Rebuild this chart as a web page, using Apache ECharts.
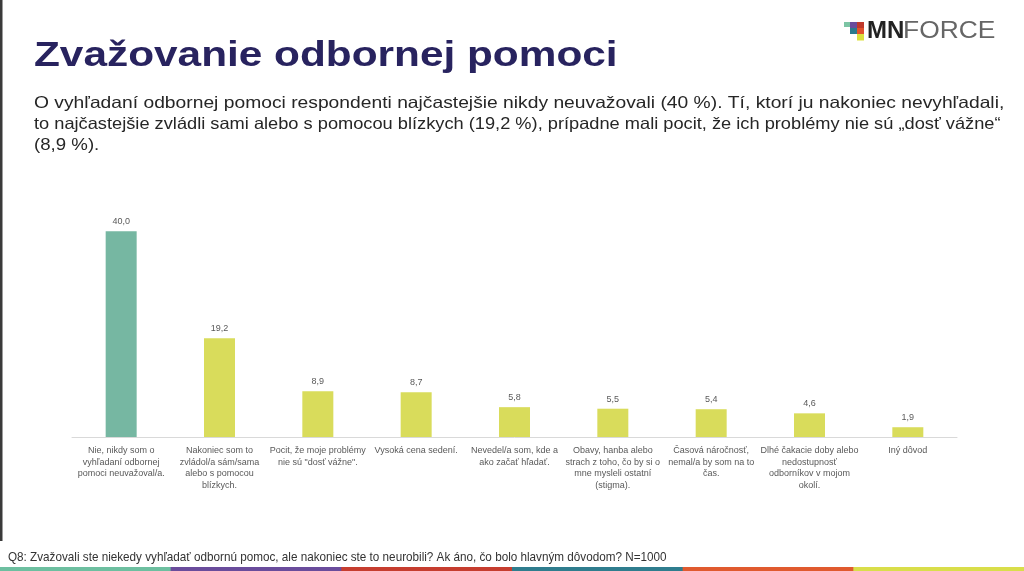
<!DOCTYPE html>
<html>
<head>
<meta charset="utf-8">
<script src="https://cdn.jsdelivr.net/npm/echarts@6/dist/echarts.min.js"></script>
<style>
  html, body { margin: 0; padding: 0; background: #fff; }
  #chart { width: 1024px; height: 571px; }
</style>
</head>
<body>
<div id="chart"></div>
<script>
// kategórie (zalomené ako v originále)
var categories = [
	'Nie, nikdy som o\nvyhľadaní odbornej\npomoci neuvažoval/a.',
	'Nakoniec som to\nzvládol/a sám/sama\nalebo s pomocou\nblízkych.',
	'Pocit, že moje problémy\nnie sú "dosť vážne".',
	'Vysoká cena sedení.',
	'Nevedel/a som, kde a\nako začať hľadať.',
	'Obavy, hanba alebo\nstrach z toho, čo by si o\nmne mysleli ostatní\n(stigma).',
	'Časová náročnosť,\nnemal/a by som na to\nčas.',
	'Dlhé čakacie doby alebo\nnedostupnosť\nodborníkov v mojom\nokolí.',
	'Iný dôvod'
];
// percentá
var values = [40.0, 19.2, 8.9, 8.7, 5.8, 5.5, 5.4, 4.6, 1.9];

var titleText = 'Zvažovanie odbornej pomoci';
var subtitleLines = [
	'O vyhľadaní odbornej pomoci respondenti najčastejšie nikdy neuvažovali (40 %). Tí, ktorí ju nakoniec nevyhľadali,',
	'to najčastejšie zvládli sami alebo s pomocou blízkych (19,2 %), prípadne mali pocit, že ich problémy nie sú „dosť vážne“',
	'(8,9 %).'
];
var footnote = 'Q8: Zvažovali ste niekedy vyhľadať odbornú pomoc, ale nakoniec ste to neurobili? Ak áno, čo bolo hlavným dôvodom? N=1000';

var TEAL = '#76b7a2';
var YELLOW = '#d9dc5b';
var stripColors = ['#6dbfa0', '#6a4c9c', '#c63d2f', '#2f7d8e', '#e05a2f', '#d9de4a'];

var myChart = echarts.init(document.getElementById('chart'));

// spodný farebný pás
var strip = stripColors.map(function (c, i) {
	return {
		type: 'rect',
		shape: { x: i * 1024 / 6, y: 567, width: 1024 / 6 + 1, height: 4 },
		style: { fill: c },
		silent: true
	};
});

// logo - štvorčeky
var logoCells = [
	{ x: 844, y: 22, w: 6, h: 5, c: '#7cc4a4' },
	{ x: 850, y: 22, w: 7, h: 6, c: '#6a4c9c' },
	{ x: 857, y: 22, w: 7, h: 6, c: '#c0392b' },
	{ x: 850, y: 28, w: 7, h: 6, c: '#2b7a8c' },
	{ x: 857, y: 28, w: 7, h: 6, c: '#e2522c' },
	{ x: 857, y: 34, w: 7, h: 6.5, c: '#dce03c' }
].map(function (s) {
	return {
		type: 'rect',
		shape: { x: s.x, y: s.y, width: s.w, height: s.h },
		style: { fill: s.c },
		silent: true
	};
});

// podnadpis po riadkoch (každý riadok natiahnutý na šírku originálu)
var lineScale = [1.167, 1.105, 1.13];
var subtitle = subtitleLines.map(function (t, i) {
	return {
		type: 'text',
		x: 34,
		y: 103.5 + i * 21,
		scaleX: lineScale[i],
		style: {
			text: t,
			font: '16.5px "Liberation Sans", Arial, sans-serif',
			fill: '#262626',
			verticalAlign: 'middle'
		}
	};
});

var option = {
	animation: false,
	backgroundColor: '#fff',
	grid: {
		left: 72,
		right: 67,
		top: 205.5,
		bottom: 134
	},
	xAxis: {
		type: 'category',
		data: categories,
		axisLine: { lineStyle: { color: '#d9d9d9', width: 1 } },
		axisTick: { show: false },
		axisLabel: {
			interval: 0,
			margin: 8,
			color: '#595959',
			fontSize: 9,
			lineHeight: 11.5,
			fontFamily: 'Liberation Sans, Arial, sans-serif',
			align: 'center'
		}
	},
	yAxis: {
		type: 'value',
		min: 0,
		max: 45,
		show: false,
		splitLine: { show: false }
	},
	series: [
		{
			type: 'bar',
			barWidth: 31,
			data: values,
			itemStyle: {
				color: function (p) {
					return p.dataIndex === 0 ? TEAL : YELLOW;
				}
			},
			label: {
				show: true,
				position: 'top',
				distance: 5,
				color: '#595959',
				fontSize: 9,
				fontFamily: 'Liberation Sans, Arial, sans-serif',
				formatter: function (p) {
					return p.value.toFixed(1).replace('.', ',');
				}
			}
		}
	],
	graphic: [
		// ľavý okraj
		{
			type: 'rect',
			shape: { x: 0, y: 0, width: 2.5, height: 541 },
			style: { fill: '#3a3a3a' },
			silent: true
		},
		{
			type: 'text',
			x: 34,
			y: 56,
			scaleX: 1.21,
			style: {
				text: titleText,
				font: 'bold 35px "Liberation Sans", Arial, sans-serif',
				fill: '#28235f',
				verticalAlign: 'middle'
			}
		},
		{
			type: 'text',
			x: 867,
			y: 31,
			style: {
				text: 'MN',
				font: 'bold 24px "Liberation Sans", Arial, sans-serif',
				fill: '#222',
				verticalAlign: 'middle'
			}
		},
		{
			type: 'text',
			x: 903,
			y: 31,
			scaleX: 1.1,
			style: {
				text: 'FORCE',
				font: '24px "Liberation Sans", Arial, sans-serif',
				fill: '#666',
				verticalAlign: 'middle'
			}
		},
		{
			type: 'text',
			x: 8,
			y: 557,
			scaleX: 0.9,
			style: {
				text: footnote,
				font: '13px "Liberation Sans", Arial, sans-serif',
				fill: '#333',
				verticalAlign: 'middle'
			}
		}
	].concat(subtitle, logoCells, strip)
};

myChart.setOption(option);
</script>
</body>
</html>
